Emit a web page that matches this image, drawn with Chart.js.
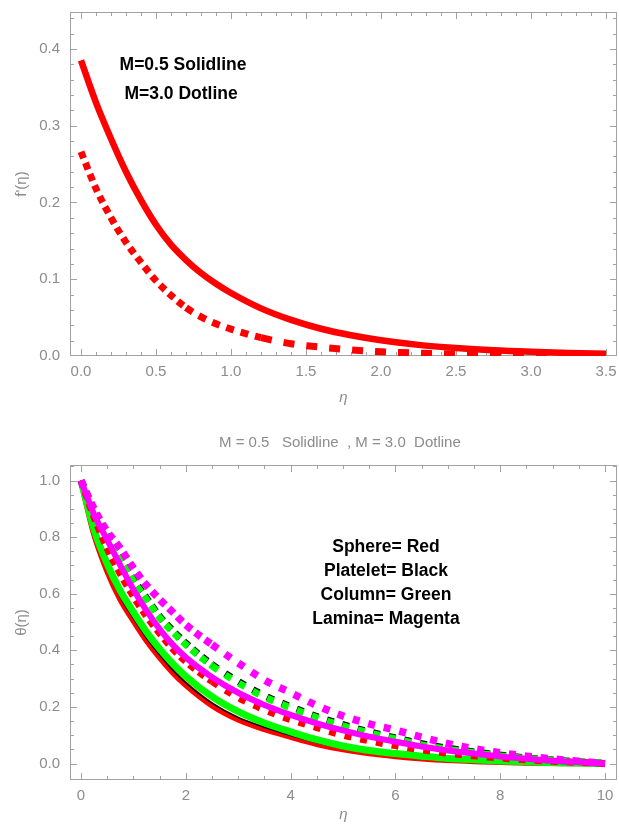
<!DOCTYPE html>
<html>
<head>
<meta charset="utf-8">
<script src="https://cdn.jsdelivr.net/npm/chart.js@4.4.1/dist/chart.umd.min.js"></script>
<style>
  html, body { margin: 0; padding: 0; background: #fff; width: 619px; height: 834px; overflow: hidden; }
  .panel { position: absolute; left: 0; width: 619px; }
  #topPanel { top: 0; height: 412px; }
  #botPanel { top: 412px; height: 422px; }
  canvas { display: block; }
</style>
</head>
<body>
<div class="panel" id="topPanel"><canvas id="velocity" width="619" height="412"></canvas></div>
<div class="panel" id="botPanel"><canvas id="temperature" width="619" height="422"></canvas></div>
<script>
// ---------- Velocity profile f'(eta) ----------
const etaTop = [0, 0.1, 0.2, 0.3, 0.4, 0.5, 0.6, 0.7, 0.8, 0.9, 1.0, 1.2, 1.4, 1.6, 1.8, 2.0, 2.25, 2.5, 2.75, 3.0, 3.25, 3.5];
const fpM05 = [0.385, 0.330, 0.283, 0.240, 0.203, 0.171, 0.145, 0.125, 0.108, 0.094, 0.082, 0.062, 0.047, 0.0355, 0.027, 0.0205, 0.0145, 0.0105, 0.0075, 0.0055, 0.004, 0.003];
const fpM30 = [0.266, 0.218, 0.180, 0.148, 0.122, 0.098, 0.079, 0.063, 0.051, 0.042, 0.035, 0.024, 0.016, 0.0115, 0.008, 0.0055, 0.0038, 0.0026, 0.0018, 0.0013, 0.0009, 0.0006];

const topXTicks = [0, 0.5, 1.0, 1.5, 2.0, 2.5, 3.0, 3.5];
const topXLabels = ['0.0', '0.5', '1.0', '1.5', '2.0', '2.5', '3.0', '3.5'];
const topYTicks = [0, 0.1, 0.2, 0.3, 0.4];
const topYLabels = ['0.0', '0.1', '0.2', '0.3', '0.4'];

// ---------- Temperature profile theta(eta) ----------
const etaBot = [0, 0.25, 0.5, 0.75, 1, 1.25, 1.5, 1.75, 2, 2.5, 3, 3.5, 4, 4.5, 5, 5.5, 6, 6.5, 7, 7.5, 8, 8.5, 9, 9.5, 10];
// M = 0.5 (solid)
const sphereM05   = [1, 0.81, 0.68, 0.58, 0.505, 0.435, 0.375, 0.322, 0.277, 0.205, 0.155, 0.121, 0.094, 0.069, 0.05, 0.036, 0.026, 0.018, 0.012, 0.008, 0.005, 0.003, 0.0015, 0.0007, 0];
const plateletM05 = [1, 0.815, 0.687, 0.588, 0.513, 0.443, 0.383, 0.33, 0.285, 0.213, 0.162, 0.128, 0.099, 0.074, 0.054, 0.039, 0.029, 0.02, 0.014, 0.009, 0.006, 0.0035, 0.002, 0.001, 0];
const columnM05   = [1, 0.827, 0.705, 0.61, 0.535, 0.465, 0.405, 0.353, 0.308, 0.236, 0.183, 0.143, 0.112, 0.084, 0.062, 0.046, 0.035, 0.026, 0.018, 0.013, 0.009, 0.006, 0.003, 0.0015, 0];
const laminaM05   = [1, 0.88, 0.79, 0.70, 0.615, 0.54, 0.475, 0.42, 0.375, 0.305, 0.25, 0.207, 0.172, 0.142, 0.117, 0.095, 0.077, 0.06, 0.046, 0.035, 0.025, 0.017, 0.01, 0.005, 0];
// M = 3.0 (dotted)
const sphereM30   = [1, 0.87, 0.76, 0.67, 0.59, 0.52, 0.46, 0.405, 0.36, 0.29, 0.233, 0.19, 0.155, 0.127, 0.1, 0.08, 0.063, 0.048, 0.036, 0.027, 0.019, 0.013, 0.008, 0.004, 0];
const plateletM30 = [1, 0.889, 0.804, 0.725, 0.65, 0.585, 0.52, 0.47, 0.425, 0.35, 0.29, 0.24, 0.201, 0.166, 0.137, 0.112, 0.09, 0.07, 0.054, 0.041, 0.03, 0.02, 0.012, 0.006, 0];
const columnM30   = [1, 0.885, 0.80, 0.72, 0.645, 0.58, 0.515, 0.465, 0.42, 0.345, 0.285, 0.235, 0.197, 0.162, 0.133, 0.108, 0.087, 0.066, 0.05, 0.038, 0.027, 0.018, 0.011, 0.005, 0];
const laminaM30   = [1, 0.90, 0.82, 0.76, 0.69, 0.63, 0.58, 0.535, 0.49, 0.42, 0.355, 0.295, 0.25, 0.205, 0.168, 0.14, 0.118, 0.093, 0.07, 0.052, 0.038, 0.026, 0.016, 0.008, 0];

const botXTicks = [0, 2, 4, 6, 8, 10];
const botXLabels = ['0', '2', '4', '6', '8', '10'];
const botYTicks = [0, 0.2, 0.4, 0.6, 0.8, 1.0];
const botYLabels = ['0.0', '0.2', '0.4', '0.6', '0.8', '1.0'];

// ---------- shared helpers ----------
const FONT = '"Liberation Sans", Arial, Helvetica, sans-serif';
const GREY_TEXT = '#8c8c8c';
const GREY_FRAME = '#a2a2a2';

function steps(from, to, step) {
  const out = [];
  for (let v = from; v <= to + step / 1000; v += step) out.push(+v.toFixed(4));
  return out;
}

function pts(xs, ys) { return xs.map((x, i) => ({ x, y: ys[i] })); }

// dotted pattern stretches where the curve runs flat
function dottedDash(ctx) {
  const dx = Math.abs(ctx.p1.x - ctx.p0.x), dy = Math.abs(ctx.p1.y - ctx.p0.y);
  const c = dx / (Math.hypot(dx, dy) || 1);
  return c < 0.8 ? [7, 5] : c < 0.97 ? [8, 7] : [11, 12];
}
function dottedDashBot(ctx) {
  const dx = Math.abs(ctx.p1.x - ctx.p0.x), dy = Math.abs(ctx.p1.y - ctx.p0.y);
  const c = dx / (Math.hypot(dx, dy) || 1);
  return c < 0.8 ? [7, 5] : [7, 9];
}

// frame on four sides with inward ticks
const framePlugin = {
  id: 'frame',
  beforeDatasetsDraw(chart, args, o) {
    const { ctx, chartArea: a, scales: { x, y } } = chart;
    ctx.save();
    ctx.strokeStyle = GREY_FRAME;
    ctx.lineWidth = 1;
    ctx.strokeRect(a.left + 0.5, a.top + 0.5, a.right - a.left - 1, a.bottom - a.top - 1);
    const vTicks = (vals, len) => vals.forEach(v => {
      const p = Math.round(x.getPixelForValue(v)) + 0.5;
      if (p < a.left || p > a.right) return;
      ctx.beginPath();
      ctx.moveTo(p, a.bottom); ctx.lineTo(p, a.bottom - len);
      ctx.moveTo(p, a.top); ctx.lineTo(p, a.top + len);
      ctx.stroke();
    });
    const hTicks = (vals, len) => vals.forEach(v => {
      const p = Math.round(y.getPixelForValue(v)) + 0.5;
      if (p < a.top || p > a.bottom) return;
      ctx.beginPath();
      ctx.moveTo(a.left, p); ctx.lineTo(a.left + len, p);
      ctx.moveTo(a.right, p); ctx.lineTo(a.right - len, p);
      ctx.stroke();
    });
    vTicks(o.xMinor, 4); vTicks(o.xMajor, 7);
    hTicks(o.yMinor, 4); hTicks(o.yMajor, 7);
    ctx.restore();
  }
};

// text placed at data coordinates
const notesPlugin = {
  id: 'notes',
  afterDatasetsDraw(chart, args, o) {
    const { ctx, scales: { x, y } } = chart;
    ctx.save();
    ctx.textAlign = 'center';
    ctx.textBaseline = 'middle';
    (o.items || []).forEach(it => {
      ctx.font = it.font;
      ctx.fillStyle = it.color;
      ctx.fillText(it.text, x.getPixelForValue(it.x), y.getPixelForValue(it.y));
    });
    ctx.restore();
  }
};

function axisOpts(cfg) {
  return {
    type: 'linear',
    min: cfg.min, max: cfg.max,
    grid: { display: false, drawTicks: false },
    border: { display: false },
    afterBuildTicks: s => { s.ticks = cfg.ticks.map(v => ({ value: v })); },
    afterFit: s => {
      if (cfg.horizontal) { s.height = cfg.size; s.paddingLeft = 0; s.paddingRight = 0; }
      else { s.width = cfg.size; s.paddingTop = 0; s.paddingBottom = 0; }
    },
    ticks: {
      callback: (v, i) => cfg.labels[i],
      color: GREY_TEXT,
      font: { family: FONT, size: 15 },
      padding: cfg.pad,
      maxRotation: 0, autoSkip: false
    },
    title: {
      display: true, text: cfg.title, color: GREY_TEXT,
      font: { family: FONT, size: 15, style: cfg.titleStyle || 'normal' },
      padding: cfg.titlePad
    }
  };
}

function lineSet(data, color, width, order, dash) {
  const ds = {
    data, borderColor: color, backgroundColor: color, borderWidth: width,
    pointRadius: 0, fill: false, cubicInterpolationMode: 'monotone',
    borderCapStyle: 'butt', order
  };
  if (dash) ds.segment = { borderDash: dash };
  return ds;
}

Chart.defaults.animation = false;

const NOTE_FONT = 'bold 17.5px ' + FONT;

// ---------- top chart ----------
new Chart(document.getElementById('velocity'), {
  type: 'line',
  data: {
    datasets: [
      lineSet(pts(etaTop, fpM05), '#ff0000', 6.5, 0),
      lineSet(pts(etaTop, fpM30), '#ff0000', 7, 1, dottedDash)
    ]
  },
  options: {
    responsive: false,
    layout: { padding: { top: 12, right: 2, left: 0, bottom: 0 } },
    plugins: {
      legend: { display: false }, tooltip: { enabled: false },
      frame: { xMajor: topXTicks, xMinor: steps(0, 3.5, 0.1), yMajor: topYTicks, yMinor: steps(0, 0.44, 0.02) },
      notes: { items: [
        { text: 'M=0.5 Solidline', x: 0.68, y: 0.379, font: NOTE_FONT, color: '#000' },
        { text: 'M=3.0 Dotline',   x: 0.667, y: 0.341, font: NOTE_FONT, color: '#000' }
      ] }
    },
    scales: {
      x: axisOpts({ min: -0.0733, max: 3.573, ticks: topXTicks, labels: topXLabels, horizontal: true, size: 56, pad: 7,
                    title: 'η', titleStyle: 'italic', titlePad: { top: 0, bottom: 5 } }),
      y: axisOpts({ min: 0, max: 0.448, ticks: topYTicks, labels: topYLabels, size: 70, pad: 10,
                    title: "f'(η)", titlePad: { top: 13, bottom: 0 } })
    }
  },
  plugins: [framePlugin, notesPlugin]
});

// ---------- bottom chart ----------
new Chart(document.getElementById('temperature'), {
  type: 'line',
  data: {
    datasets: [
      lineSet(pts(etaBot, sphereM05),   '#ff0000', 6,   7),
      lineSet(pts(etaBot, plateletM05), '#000000', 1.5, 6),
      lineSet(pts(etaBot, columnM05),   '#00ff00', 7,   5),
      lineSet(pts(etaBot, plateletM30), '#000000', 7,   4, dottedDashBot),
      lineSet(pts(etaBot, columnM30),   '#00ff00', 7,   3, dottedDashBot),
      lineSet(pts(etaBot, sphereM30),   '#ff0000', 7,   2, dottedDashBot),
      lineSet(pts(etaBot, laminaM05),   '#ff00ff', 6,   1),
      lineSet(pts(etaBot, laminaM30),   '#ff00ff', 7.5, 0, dottedDashBot)
    ]
  },
  options: {
    responsive: false,
    layout: { padding: { top: 53, right: 2, left: 0, bottom: 0 } },
    plugins: {
      legend: { display: false }, tooltip: { enabled: false },
      frame: { xMajor: botXTicks, xMinor: steps(0, 10, 0.5), yMajor: botYTicks, yMinor: steps(0, 1.05, 0.05) },
      notes: { items: [
        { text: 'M = 0.5   Solidline  , M = 3.0  Dotline', x: 4.94, y: 1.133, font: '15px ' + FONT, color: GREY_TEXT },
        { text: 'Sphere= Red',      x: 5.82, y: 0.765, font: NOTE_FONT, color: '#000' },
        { text: 'Platelet= Black',  x: 5.82, y: 0.680, font: NOTE_FONT, color: '#000' },
        { text: 'Column= Green',    x: 5.82, y: 0.595, font: NOTE_FONT, color: '#000' },
        { text: 'Lamina= Magenta',  x: 5.82, y: 0.511, font: NOTE_FONT, color: '#000' }
      ] }
    },
    scales: {
      x: axisOpts({ min: -0.21, max: 10.229, ticks: botXTicks, labels: botXLabels, horizontal: true, size: 54, pad: 7,
                    title: 'η', titleStyle: 'italic', titlePad: { top: 0, bottom: 10 } }),
      y: axisOpts({ min: -0.0583, max: 1.0548, ticks: botYTicks, labels: botYLabels, size: 70, pad: 10,
                    title: 'θ(η)', titlePad: { top: 13, bottom: 0 } })
    }
  },
  plugins: [framePlugin, notesPlugin]
});
</script>
</body>
</html>
